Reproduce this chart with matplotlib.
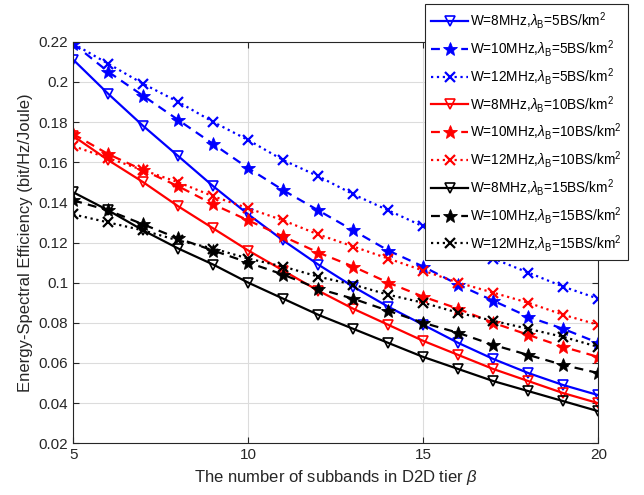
import matplotlib
matplotlib.use("Agg")
import matplotlib.pyplot as plt
import numpy as np

plt.rcParams['font.family'] = ['Liberation Sans', 'DejaVu Sans']
plt.rcParams['mathtext.fontset'] = 'custom'
plt.rcParams['mathtext.rm'] = 'Liberation Sans'
plt.rcParams['mathtext.it'] = 'Liberation Sans:italic'

beta = [5, 6, 7, 8, 9, 10, 11, 12, 13, 14, 15, 16, 17, 18, 19, 20]

w8_l5 = [0.211, 0.194, 0.178, 0.163, 0.148, 0.134, 0.121, 0.109, 0.098, 0.088, 0.079, 0.070, 0.062, 0.055, 0.049, 0.044]
w10_l5 = [0.219, 0.205, 0.193, 0.181, 0.169, 0.157, 0.146, 0.136, 0.126, 0.116, 0.108, 0.099, 0.091, 0.083, 0.077, 0.070]
w12_l5 = [0.219, 0.209, 0.199, 0.190, 0.180, 0.171, 0.161, 0.153, 0.144, 0.136, 0.128, 0.120, 0.112, 0.105, 0.098, 0.092]

w8_l10 = [0.173, 0.161, 0.150, 0.138, 0.127, 0.116, 0.106, 0.096, 0.087, 0.079, 0.071, 0.064, 0.057, 0.051, 0.045, 0.040]
w10_l10 = [0.174, 0.164, 0.156, 0.148, 0.139, 0.131, 0.123, 0.115, 0.108, 0.100, 0.093, 0.087, 0.080, 0.074, 0.068, 0.063]
w12_l10 = [0.168, 0.162, 0.156, 0.150, 0.143, 0.137, 0.131, 0.124, 0.118, 0.112, 0.106, 0.100, 0.095, 0.090, 0.084, 0.079]

w8_l15 = [0.145, 0.136, 0.126, 0.117, 0.109, 0.100, 0.092, 0.084, 0.077, 0.070, 0.063, 0.057, 0.051, 0.046, 0.041, 0.036]
w10_l15 = [0.141, 0.136, 0.129, 0.122, 0.116, 0.110, 0.104, 0.097, 0.092, 0.086, 0.080, 0.075, 0.069, 0.064, 0.059, 0.055]
w12_l15 = [0.134, 0.130, 0.126, 0.121, 0.117, 0.112, 0.108, 0.103, 0.099, 0.094, 0.090, 0.085, 0.081, 0.077, 0.073, 0.068]

series = [
    (w8_l5, 'W=8MHz,$\\lambda_\\mathrm{B}$=5BS/km$^2$', 'b', '-', 'v'),
    (w10_l5, 'W=10MHz,$\\lambda_\\mathrm{B}$=5BS/km$^2$', 'b', '--', '*'),
    (w12_l5, 'W=12MHz,$\\lambda_\\mathrm{B}$=5BS/km$^2$', 'b', ':', 'x'),
    (w8_l10, 'W=8MHz,$\\lambda_\\mathrm{B}$=10BS/km$^2$', 'r', '-', 'v'),
    (w10_l10, 'W=10MHz,$\\lambda_\\mathrm{B}$=10BS/km$^2$', 'r', '--', '*'),
    (w12_l10, 'W=12MHz,$\\lambda_\\mathrm{B}$=10BS/km$^2$', 'r', ':', 'x'),
    (w8_l15, 'W=8MHz,$\\lambda_\\mathrm{B}$=15BS/km$^2$', 'k', '-', 'v'),
    (w10_l15, 'W=10MHz,$\\lambda_\\mathrm{B}$=15BS/km$^2$', 'k', '--', '*'),
    (w12_l15, 'W=12MHz,$\\lambda_\\mathrm{B}$=15BS/km$^2$', 'k', ':', 'x'),
]

fig = plt.figure(figsize=(6.44, 4.95), dpi=100)
ax = fig.add_axes([0.1138, 0.1044, 0.8152, 0.8114])

for vals, lab, c, ls, mk in series:
    kw = dict(color=c, linestyle=ls, marker=mk, linewidth=1.6, label=lab)
    if ls == '--':
        kw['dashes'] = (4, 2.8)
    if mk == 'v':
        kw.update(markersize=7, markerfacecolor='none', markeredgewidth=1.2)
    elif mk == '*':
        kw.update(markersize=10, markeredgewidth=0.6)
    else:
        kw.update(markersize=7, markeredgewidth=1.6)
    ax.plot(beta, vals, **kw)

ax.set_xlim(5, 20)
ax.set_ylim(0.02, 0.22)
ax.set_xticks([5, 10, 15, 20])
yt = np.arange(0.02, 0.2201, 0.02)
ax.set_yticks(yt)
ax.set_yticklabels([('%.2f' % v).rstrip('0') for v in yt])
ax.tick_params(direction='in', labelsize=11, top=True, right=True, length=4,
               color='#262626', labelcolor='#262626')
ax.grid(True, color='#dcdcdc', linewidth=0.8)
ax.set_axisbelow(True)
for s in ax.spines.values():
    s.set_color('#262626')
    s.set_linewidth(0.8)

ax.set_xlabel('The number of subbands in D2D tier $\\beta$', fontsize=12, color='#262626')
ax.set_ylabel('Energy-Spectral Efficiency (bit/Hz/Joule)', fontsize=12, color='#262626')

leg = fig.legend(loc='upper left', bbox_to_anchor=(0.66, 0.992), fontsize=9.8,
                 frameon=True, fancybox=False, framealpha=1, edgecolor='#262626',
                 handlelength=2.7, labelspacing=0.5, borderpad=0.45, handletextpad=0.15,
                 borderaxespad=0)
leg.get_frame().set_linewidth(0.8)

fig.savefig('out.png', dpi=100)
